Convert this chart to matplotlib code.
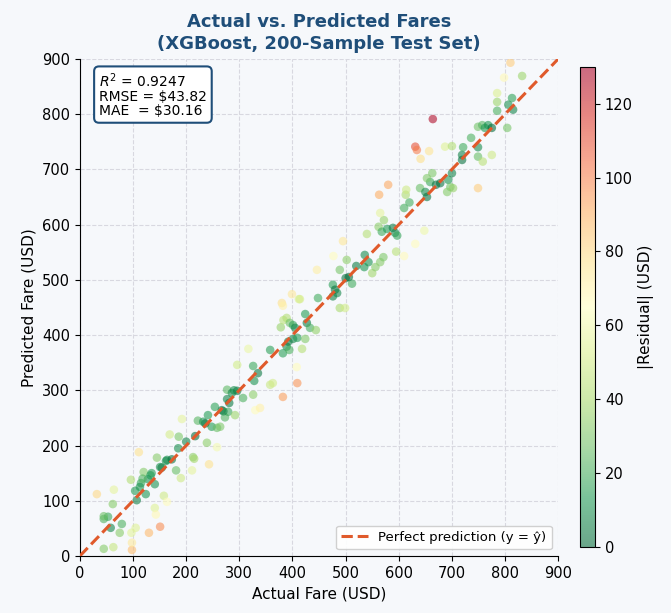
import matplotlib
matplotlib.use('Agg')
import matplotlib.pyplot as plt
import numpy as np

# ---- data (actual fare, predicted fare) ----
actual = [45, 63, 98, 98, 97, 105, 130, 151, 75, 79, 58, 45, 53, 45, 62, 32, 64, 96, 104, 107,
          115, 113, 124, 120, 128, 133, 141, 145, 151, 154, 162, 164, 173, 141, 143, 158, 164, 111, 169, 186,
          181, 190, 200, 217, 185, 213, 215, 211, 239, 243, 192, 258, 118, 135,
          222, 232, 241, 248, 258, 264, 254, 267, 273, 279, 281, 277, 277, 286, 292, 296, 307, 326, 328, 326,
          335, 296, 317, 330, 339, 358, 358, 363, 382, 382, 389, 392, 394, 409, 408, 401, 409, 418, 424, 378,
          383, 389, 380, 395, 401, 405, 424, 427, 433, 444, 399, 412, 382, 236, 270, 290,
          448, 414, 446, 477, 495, 476, 480, 476, 484, 489, 489, 499, 500, 502, 512, 536, 535, 543, 550, 556,
          565, 571, 540, 562, 568, 572, 565, 578, 589, 593, 597, 595, 610, 631, 648, 563, 580, 610, 613, 614,
          506, 520,
          640, 650, 653, 659, 663, 653, 678, 693, 697, 700, 702, 719, 719, 721, 749, 749, 758, 736, 749, 757,
          762, 768, 775, 804, 785, 785, 785, 806, 813, 815, 832, 810, 798, 664, 631, 634, 657, 641, 687, 700,
          775, 749, 691, 620, 670]
predicted = [13, 16, 11, 24, 42, 51, 42, 53, 42, 58, 51, 67, 71, 72, 94, 112, 120, 138, 118, 101,
             132, 125, 112, 152, 139, 146, 130, 178, 161, 160, 172, 174, 175, 87, 75, 109, 98, 188, 220, 216,
             155, 141, 207, 217, 195, 179, 176, 155, 205, 166, 248, 197, 140, 150,
             245, 243, 255, 234, 232, 234, 270, 264, 251, 261, 277, 284, 301, 295, 255, 299, 286, 292, 317, 344,
             331, 346, 375, 264, 268, 373, 310, 313, 288, 367, 379, 388, 373, 313, 342, 393, 395, 375, 393, 414,
             427, 431, 458, 422, 418, 413, 438, 422, 413, 409, 474, 465, 453, 240, 262, 300,
             467, 465, 518, 543, 570, 491, 482, 470, 476, 518, 449, 449, 503, 536, 493, 545, 523, 532, 512, 523,
             532, 541, 583, 596, 587, 608, 621, 592, 594, 585, 580, 551, 543, 565, 589, 654, 672, 630, 654, 663,
             505, 525,
             666, 659, 650, 677, 693, 684, 675, 681, 668, 693, 666, 717, 726, 740, 740, 723, 714, 757, 777, 780,
             775, 780, 775, 775, 838, 822, 806, 817, 829, 808, 869, 893, 866, 791, 741, 735, 733, 719, 741, 742,
             726, 666, 659, 640, 672]

r2_text = '$R^2$ = 0.9247\nRMSE = $43.82\nMAE  = $30.16'

actual = np.array(actual)
predicted = np.array(predicted)
residual = np.abs(actual - predicted)

BG = '#f6f8fb'
TITLE_C = '#1f4e79'

fig = plt.figure(figsize=(6.71, 6.13), dpi=100, facecolor=BG)
ax = fig.add_axes([0.119, 0.093, 0.713, 0.811], facecolor=BG)
cax = fig.add_axes([0.864, 0.108, 0.023, 0.783])

sc = ax.scatter(actual, predicted, c=residual, cmap='RdYlGn_r', vmin=0, vmax=130,
                s=38, alpha=0.58, edgecolors='none', zorder=3)

ax.plot([0, 900], [0, 900], linestyle='--', color='#e05a2b', linewidth=2.2,
        label='Perfect prediction (y = ŷ)', zorder=4)

ax.set_xlim(0, 900)
ax.set_ylim(0, 900)
ax.set_xticks(range(0, 901, 100))
ax.set_yticks(range(0, 901, 100))
ax.tick_params(labelsize=10.5)
ax.grid(True, linestyle='--', color='#d8d8e0', linewidth=0.8, zorder=0)
ax.spines['top'].set_visible(False)
ax.spines['right'].set_visible(False)

ax.set_xlabel('Actual Fare (USD)', fontsize=11)
ax.set_ylabel('Predicted Fare (USD)', fontsize=11)
ax.set_title('Actual vs. Predicted Fares\n(XGBoost, 200-Sample Test Set)',
             fontsize=13, fontweight='bold', color=TITLE_C, pad=7, linespacing=1.3)

ax.text(0.04, 0.975, r2_text, transform=ax.transAxes, fontsize=10, va='top', ha='left',
        linespacing=1.0,
        bbox=dict(boxstyle='round,pad=0.35', facecolor='white', edgecolor=TITLE_C, linewidth=1.5),
        zorder=5)

ax.legend(loc='lower right', fontsize=9.5, framealpha=0.9)

cb = fig.colorbar(sc, cax=cax)
cb.set_label('|Residual| (USD)', fontsize=11)
cb.ax.tick_params(labelsize=10.5)

fig.savefig('out.png', dpi=100, facecolor=BG)
